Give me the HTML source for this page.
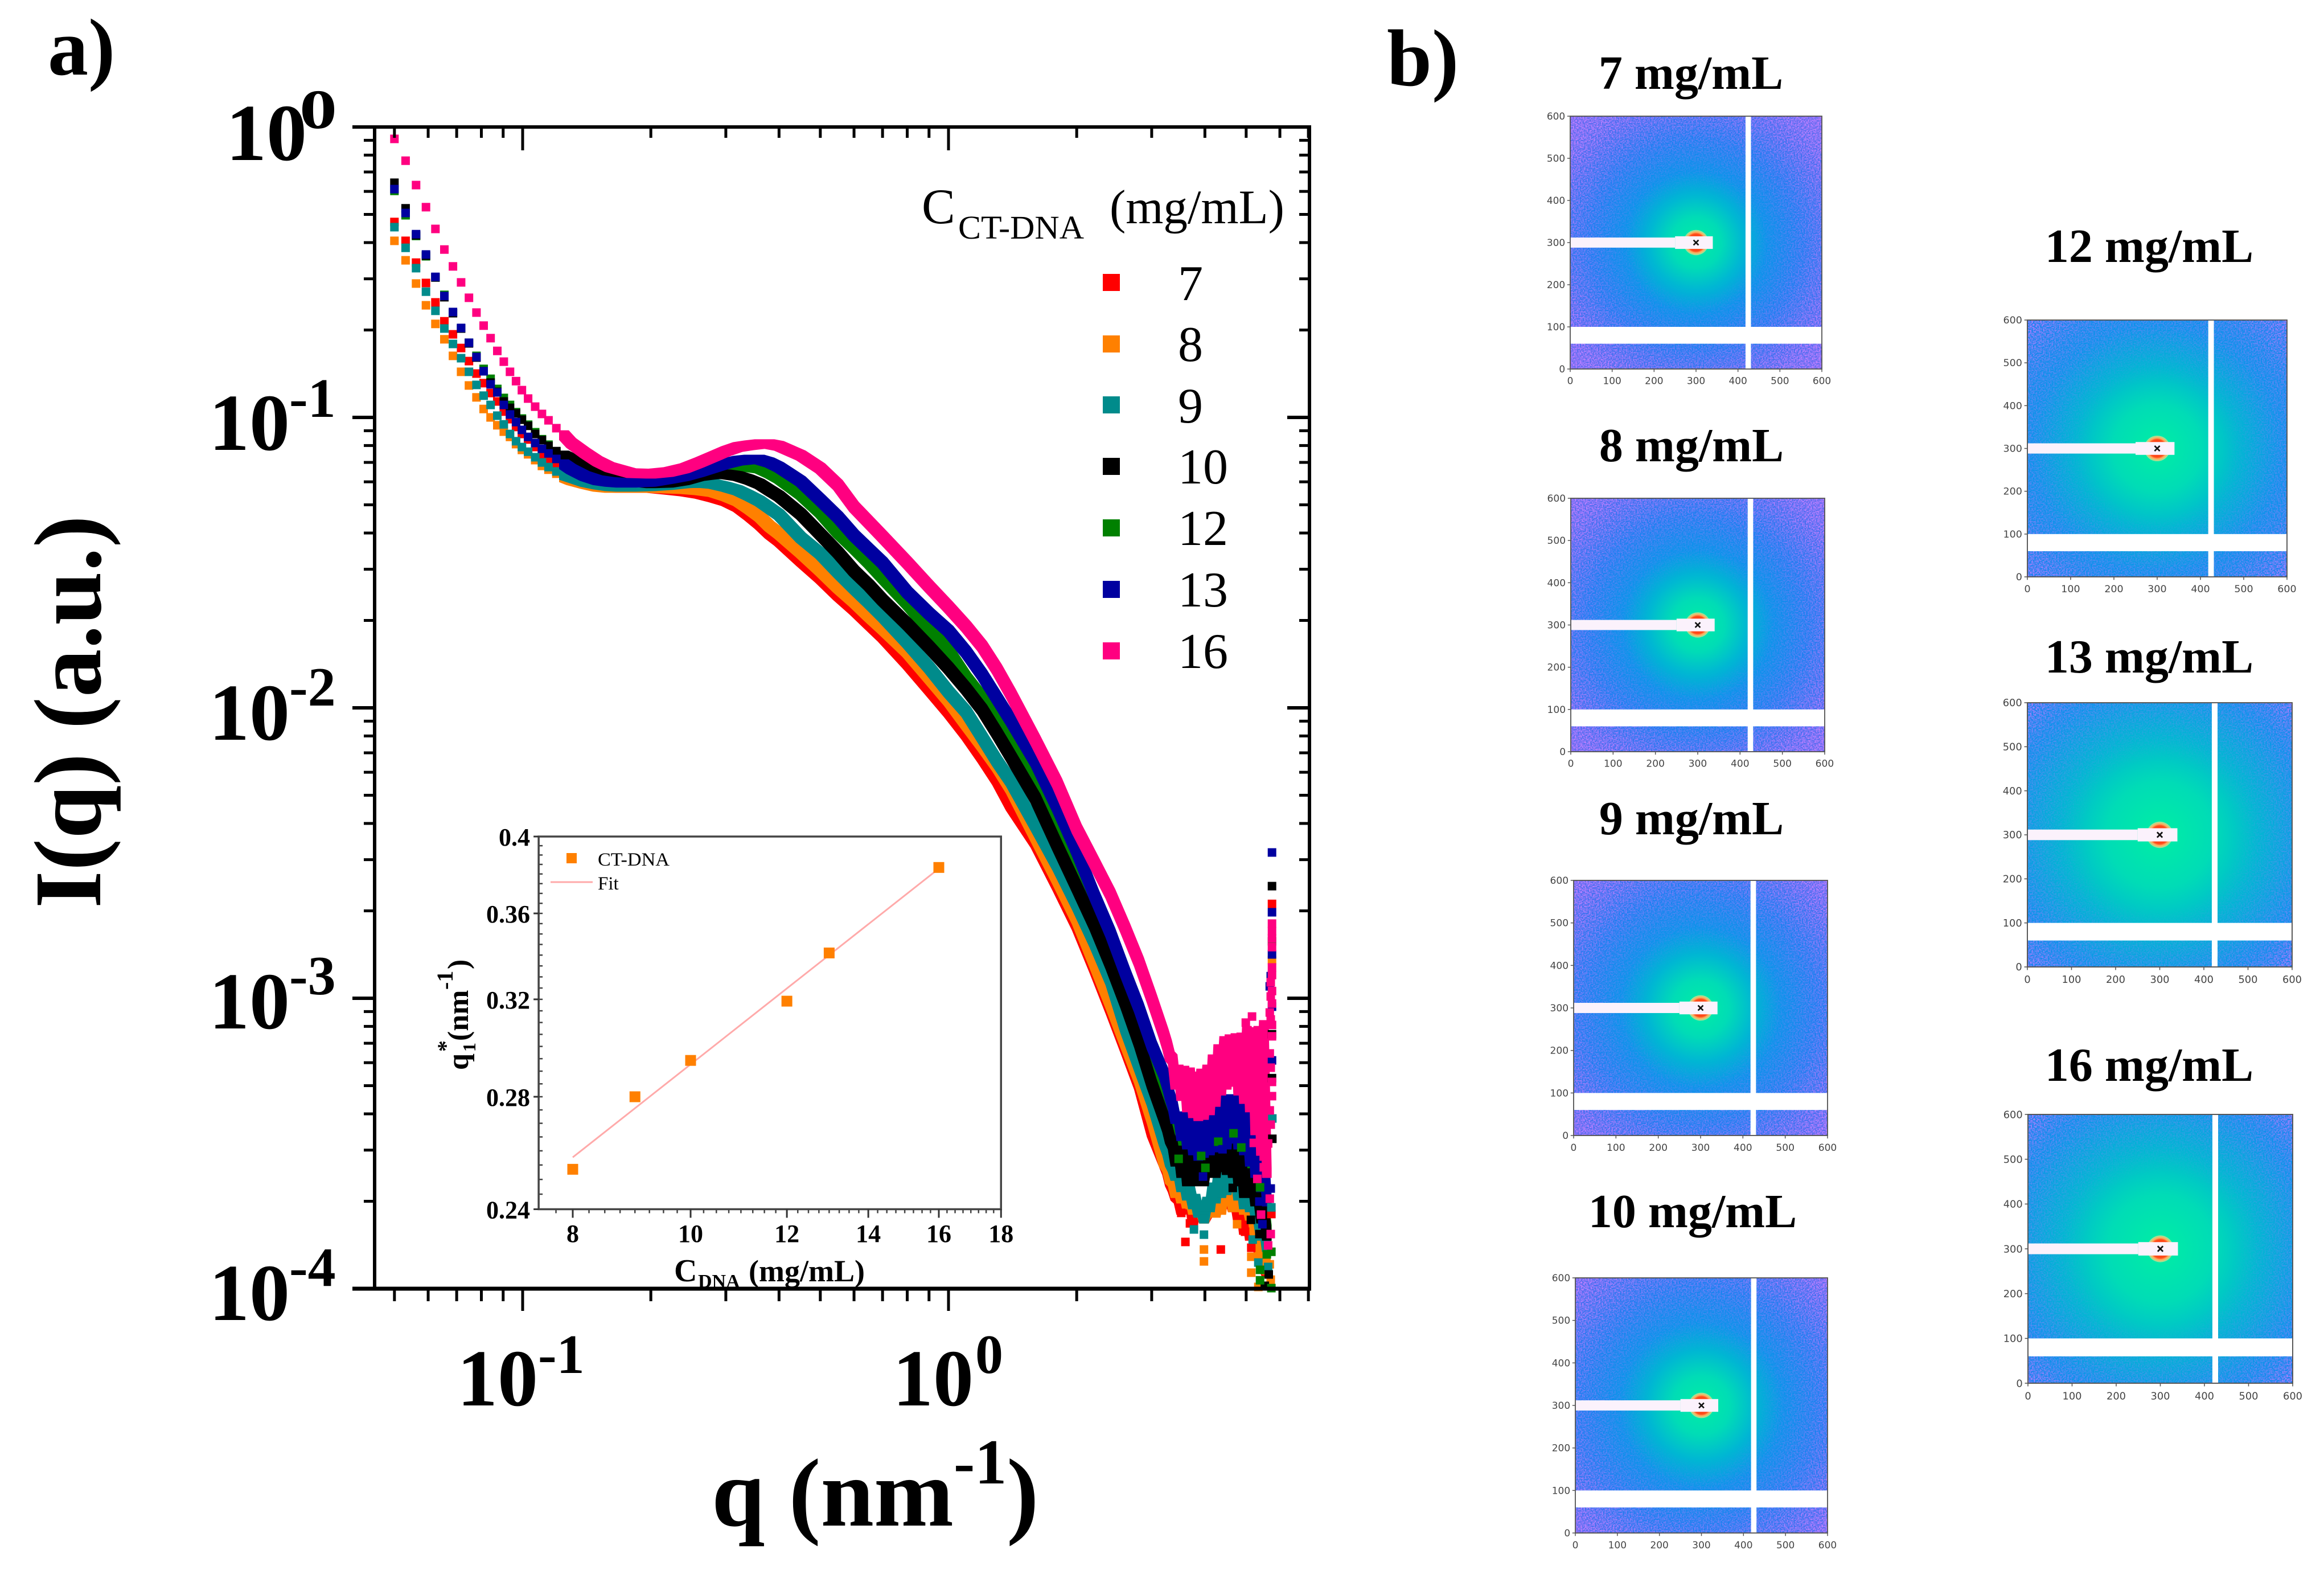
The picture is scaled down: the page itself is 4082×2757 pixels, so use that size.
<!DOCTYPE html>
<html lang="en">
<head>
<meta charset="utf-8">
<title>SAXS intensity of CT-DNA solutions</title>
<style>
html,body{margin:0;padding:0;background:#fff;}
svg{display:block;}
text{font-family:"Liberation Serif","Times New Roman",serif;fill:#000;}
.b{font-weight:bold;}
</style>
</head>
<body>
<svg id="figure" xmlns="http://www.w3.org/2000/svg" width="4082" height="2757" viewBox="0 0 4082 2757">
<defs>
<filter id="speckle" x="0" y="0" width="1" height="1" color-interpolation-filters="sRGB">
<feTurbulence type="fractalNoise" baseFrequency="0.3" numOctaves="2" seed="4"/>
<feColorMatrix type="matrix" values="0 0 0 0 0.74  0 0 0 0 0.5  0 0 0 0 1  3 0 0 0 -1.05"/>
</filter>
</defs>
<rect x="0" y="0" width="4082" height="2757" fill="#fff"/>
<text class="b" x="84" y="131" font-size="142">a)</text>
<text class="b" x="2436" y="150" font-size="142">b)</text>

<g id="main-marks"></g>
<g id="main-axes"></g>

<text class="b" x="397" y="281" font-size="142">10</text>
<text class="b" x="526" y="225" font-size="98" textLength="66" lengthAdjust="spacingAndGlyphs">0</text>
<text class="b" x="367" y="790" font-size="142">10</text>
<text class="b" x="508" y="732" font-size="98">-1</text>
<text class="b" x="367" y="1299" font-size="142">10</text>
<text class="b" x="508" y="1239" font-size="98">-2</text>
<text class="b" x="367" y="1806" font-size="142">10</text>
<text class="b" x="508" y="1746" font-size="98">-3</text>
<text class="b" x="367" y="2318" font-size="142">10</text>
<text class="b" x="508" y="2258" font-size="98">-4</text>
<text class="b" x="803" y="2468" font-size="142">10</text>
<text class="b" x="945" y="2411" font-size="98">-1</text>
<text class="b" x="1568" y="2468" font-size="142">10</text>
<text class="b" x="1713" y="2411" font-size="98">0</text>

<text class="b" x="1250" y="2679" font-size="170" textLength="425" lengthAdjust="spacingAndGlyphs">q (nm</text>
<text class="b" x="1675" y="2605" font-size="112">-1</text>
<text class="b" x="1768" y="2679" font-size="170">)</text>
<text class="b" transform="translate(176,1595) rotate(-90)" font-size="168" textLength="690" lengthAdjust="spacingAndGlyphs">I(q) (a.u.)</text>

<g>
<text x="1619" y="392" font-size="88">C</text>
<text x="1683" y="419" font-size="58" textLength="221" lengthAdjust="spacingAndGlyphs">CT-DNA</text>
<text x="1949" y="392" font-size="85">(mg/mL)</text>
<rect x="1937" y="481" width="30" height="30" fill="#ff0000"/>
<text x="2069" y="527" font-size="88">7</text>
<rect x="1937" y="589" width="30" height="30" fill="#ff8000"/>
<text x="2069" y="634" font-size="88">8</text>
<rect x="1937" y="696" width="30" height="30" fill="#008b8b"/>
<text x="2069" y="742" font-size="88">9</text>
<rect x="1937" y="804" width="30" height="30" fill="#000000"/>
<text x="2069" y="849" font-size="88">10</text>
<rect x="1937" y="912" width="30" height="30" fill="#008000"/>
<text x="2069" y="957" font-size="88">12</text>
<rect x="1937" y="1020" width="30" height="30" fill="#0000a0"/>
<text x="2069" y="1065" font-size="88">13</text>
<rect x="1937" y="1128" width="30" height="30" fill="#ff0080"/>
<text x="2069" y="1173" font-size="88">16</text>
</g>

<g id="inset"></g>
<g>
<text x="1050" y="1520" font-size="33" textLength="126" lengthAdjust="spacingAndGlyphs">CT-DNA</text>
<text x="1050" y="1562" font-size="33">Fit</text>
<text class="b" x="1184" y="2250" font-size="56">C</text>
<text class="b" x="1226" y="2261" font-size="34">DNA</text>
<text class="b" x="1315" y="2250" font-size="54">(mg/mL)</text>
<text class="b" transform="translate(822,1879) rotate(-90)" font-size="52">q</text>
<text class="b" transform="translate(835,1847) rotate(-90)" font-size="32">1</text>
<text class="b" transform="translate(796,1847) rotate(-90)" font-size="40">*</text>
<text class="b" transform="translate(822,1828) rotate(-90)" font-size="52">(nm</text>
<text class="b" transform="translate(795,1738) rotate(-90)" font-size="40">-1</text>
<text class="b" transform="translate(822,1702) rotate(-90)" font-size="52">)</text>
</g>

<text class="b" x="2970" y="156" font-size="84" text-anchor="middle">7 mg/mL</text>
<text class="b" x="2971" y="810" font-size="84" text-anchor="middle">8 mg/mL</text>
<text class="b" x="2971" y="1465" font-size="84" text-anchor="middle">9 mg/mL</text>
<text class="b" x="2973" y="2155" font-size="84" text-anchor="middle">10 mg/mL</text>
<text class="b" x="3775" y="460" font-size="84" text-anchor="middle">12 mg/mL</text>
<text class="b" x="3775" y="1181" font-size="84" text-anchor="middle">13 mg/mL</text>
<text class="b" x="3775" y="1898" font-size="84" text-anchor="middle">16 mg/mL</text>

<svg class="pattern" data-conc="7" x="2758" y="204" width="442" height="444" viewBox="0 0 600 600" preserveAspectRatio="none" overflow="visible"></svg>
<svg class="pattern" data-conc="8" x="2759" y="875" width="446" height="445" viewBox="0 0 600 600" preserveAspectRatio="none" overflow="visible"></svg>
<svg class="pattern" data-conc="9" x="2764" y="1546" width="446" height="448" viewBox="0 0 600 600" preserveAspectRatio="none" overflow="visible"></svg>
<svg class="pattern" data-conc="10" x="2767" y="2244" width="443" height="448" viewBox="0 0 600 600" preserveAspectRatio="none" overflow="visible"></svg>
<svg class="pattern" data-conc="12" x="3561" y="562" width="456" height="451" viewBox="0 0 600 600" preserveAspectRatio="none" overflow="visible"></svg>
<svg class="pattern" data-conc="13" x="3561" y="1234" width="465" height="464" viewBox="0 0 600 600" preserveAspectRatio="none" overflow="visible"></svg>
<svg class="pattern" data-conc="16" x="3562" y="1957" width="465" height="472" viewBox="0 0 600 600" preserveAspectRatio="none" overflow="visible"></svg>
</svg>

<script>
// q values (nm^-1) shared by all series
const qGrid = [
0.05,0.0531,0.0562,0.0593,0.0624,0.0655,0.0686,0.0717,0.0748,0.0779,0.081,0.0841,0.0872,0.0903,0.0934,0.0965,0.0996,
0.103,0.107,0.111,0.115,0.12,0.125,0.13,
0.14,0.15,0.16,0.17,0.18,0.2,0.22,0.24,0.26,0.28,0.3,0.32,0.34,0.36,0.38,0.4,
0.45,0.5,0.55,0.6,0.65,0.7,0.8,0.9,1,1.1,1.2,1.3,1.4,1.6,1.8,2,2.2,2.4,2.6,2.8,3,3.2,
3.26,3.31,3.36,3.41,3.47,3.52,3.58,3.63,3.69,3.75,3.80,3.86,3.92,3.98,4.05,4.11,4.17,4.24,4.30,4.37,4.44,4.50,4.57,4.65,4.72,4.79,4.87,4.94,5.02,5.10,5.18,5.25,5.34,5.42,5.50,5.59];

// log10 I(q), one array per DNA concentration
const logI7 = [
-.327,-.392,-.467,-.537,-.604,-.669,-.714,-.761,-.806,-.849,-.882,-.916,-.945,-.980,-1.006,-1.033,-1.057,
-1.076,-1.102,-1.127,-1.151,-1.171,-1.194,-1.210,
-1.227,-1.237,-1.241,-1.243,-1.243,-1.243,-1.249,-1.255,-1.263,-1.275,-1.288,-1.308,-1.337,-1.367,-1.400,-1.425,
-1.494,-1.553,-1.612,-1.661,-1.710,-1.755,-1.847,-1.935,-2.014,-2.092,-2.171,-2.249,-2.337,-2.465,-2.612,-2.749,-2.896,-3.037,-3.171,-3.298,-3.461,-3.563,
-3.592,-3.631,-3.651,-3.680,-3.690,-3.729,-3.680,-3.720,-3.700,-3.769,-3.720,-3.739,-3.729,-3.759,-3.739,-3.729,-3.700,-3.720,-3.700,-3.720,-3.671,-3.700,-3.680,-3.720,-3.700,-3.759,-3.720,-3.798,-3.739,-3.818,-3.778,-3.837,-3.857,-3.896,-3.916,-3.945];
const logI8 = [
-.392,-.459,-.539,-.614,-.678,-.731,-.788,-.843,-.890,-.931,-.971,-1.000,-1.027,-1.049,-1.067,-1.092,-1.112,
-1.127,-1.147,-1.167,-1.180,-1.194,-1.206,-1.216,
-1.229,-1.239,-1.243,-1.243,-1.243,-1.243,-1.245,-1.247,-1.251,-1.257,-1.271,-1.288,-1.314,-1.341,-1.375,-1.400,
-1.465,-1.527,-1.586,-1.635,-1.684,-1.727,-1.808,-1.896,-1.975,-2.057,-2.131,-2.202,-2.278,-2.445,-2.592,-2.729,-2.880,-3.020,-3.155,-3.278,-3.416,-3.563,
-3.582,-3.622,-3.631,-3.671,-3.651,-3.690,-3.671,-3.710,-3.680,-3.729,-3.700,-3.739,-3.729,-3.759,-3.729,-3.710,-3.690,-3.739,-3.690,-3.729,-3.641,-3.700,-3.622,-3.720,-3.651,-3.720,-3.661,-3.729,-3.700,-3.749,-3.739,-3.827,-3.818,-3.916,-3.876,-3.935];
const logI9 = [
-.345,-.416,-.486,-.567,-.633,-.694,-.747,-.796,-.843,-.888,-.925,-.957,-.994,-1.024,-1.057,-1.082,-1.102,
-1.118,-1.137,-1.155,-1.171,-1.186,-1.198,-1.206,
-1.222,-1.231,-1.237,-1.239,-1.239,-1.237,-1.233,-1.227,-1.225,-1.229,-1.239,-1.251,-1.269,-1.288,-1.312,-1.335,
-1.414,-1.469,-1.533,-1.588,-1.637,-1.684,-1.775,-1.861,-1.945,-2.014,-2.102,-2.184,-2.253,-2.406,-2.543,-2.678,-2.808,-2.939,-3.104,-3.235,-3.355,-3.492,
-3.524,-3.563,-3.582,-3.612,-3.602,-3.651,-3.631,-3.680,-3.661,-3.710,-3.690,-3.739,-3.720,-3.759,-3.700,-3.720,-3.651,-3.690,-3.612,-3.671,-3.602,-3.661,-3.602,-3.651,-3.612,-3.680,-3.631,-3.710,-3.641,-3.720,-3.680,-3.739,-3.759,-3.818,-3.778,-3.857];
const logI10 = [
-.192,-.280,-.373,-.443,-.518,-.586,-.641,-.694,-.745,-.794,-.841,-.880,-.912,-.945,-.967,-.986,-1.008,
-1.029,-1.057,-1.078,-1.098,-1.116,-1.131,-1.143,
-1.167,-1.186,-1.202,-1.214,-1.220,-1.227,-1.225,-1.216,-1.202,-1.196,-1.196,-1.202,-1.214,-1.229,-1.251,-1.271,
-1.333,-1.402,-1.465,-1.529,-1.578,-1.629,-1.712,-1.790,-1.863,-1.935,-2.006,-2.088,-2.167,-2.312,-2.475,-2.618,-2.749,-2.884,-3.018,-3.153,-3.294,-3.410,
-3.445,-3.484,-3.504,-3.563,-3.524,-3.602,-3.524,-3.631,-3.543,-3.631,-3.563,-3.631,-3.563,-3.631,-3.543,-3.602,-3.543,-3.602,-3.524,-3.582,-3.484,-3.592,-3.484,-3.602,-3.504,-3.631,-3.543,-3.671,-3.602,-3.671,-3.622,-3.700,-3.680,-3.759,-3.720,-3.818];
const logI12 = [
-.220,-.304,-.375,-.445,-.518,-.578,-.641,-.694,-.743,-.788,-.833,-.867,-.902,-.933,-.957,-.982,-1.004,
-1.025,-1.051,-1.075,-1.094,-1.118,-1.141,-1.151,
-1.171,-1.186,-1.198,-1.208,-1.214,-1.222,-1.218,-1.206,-1.192,-1.180,-1.175,-1.171,-1.171,-1.176,-1.192,-1.210,
-1.265,-1.327,-1.396,-1.449,-1.500,-1.551,-1.641,-1.729,-1.804,-1.896,-1.967,-2.045,-2.122,-2.261,-2.400,-2.553,-2.700,-2.831,-2.955,-3.102,-3.229,-3.347,
-3.376,-3.435,-3.455,-3.504,-3.475,-3.553,-3.484,-3.563,-3.504,-3.582,-3.504,-3.602,-3.494,-3.582,-3.484,-3.563,-3.475,-3.553,-3.465,-3.533,-3.455,-3.543,-3.435,-3.533,-3.435,-3.543,-3.484,-3.592,-3.543,-3.631,-3.602,-3.671,-3.651,-3.739,-3.700,-3.798];
const logI13 = [
-.214,-.296,-.369,-.439,-.516,-.582,-.637,-.692,-.743,-.792,-.841,-.886,-.914,-.957,-.990,-1.016,-1.043,
-1.067,-1.088,-1.108,-1.124,-1.143,-1.161,-1.178,
-1.202,-1.216,-1.222,-1.225,-1.225,-1.222,-1.212,-1.202,-1.188,-1.173,-1.159,-1.149,-1.145,-1.145,-1.155,-1.171,
-1.220,-1.284,-1.343,-1.406,-1.455,-1.500,-1.602,-1.675,-1.735,-1.808,-1.886,-1.967,-2.043,-2.186,-2.343,-2.494,-2.645,-2.775,-2.912,-3.033,-3.161,-3.259,
-3.298,-3.337,-3.367,-3.416,-3.406,-3.475,-3.406,-3.504,-3.406,-3.524,-3.406,-3.543,-3.406,-3.533,-3.386,-3.524,-3.376,-3.514,-3.357,-3.494,-3.347,-3.504,-3.347,-3.484,-3.347,-3.504,-3.376,-3.524,-3.406,-3.563,-3.435,-3.602,-3.484,-3.651,-3.524,-3.700];
const logI16 = [
-.041,-.116,-.200,-.276,-.351,-.422,-.480,-.535,-.588,-.639,-.684,-.727,-.771,-.808,-.843,-.875,-.906,
-.935,-.963,-.988,-1.010,-1.037,-1.061,-1.088,
-1.122,-1.151,-1.171,-1.182,-1.192,-1.194,-1.188,-1.175,-1.155,-1.135,-1.116,-1.102,-1.096,-1.092,-1.092,-1.098,
-1.131,-1.175,-1.233,-1.308,-1.361,-1.410,-1.500,-1.582,-1.653,-1.720,-1.788,-1.867,-1.951,-2.112,-2.259,-2.416,-2.533,-2.641,-2.759,-2.875,-3.000,-3.122,
-3.161,-3.200,-3.210,-3.298,-3.245,-3.337,-3.249,-3.376,-3.255,-3.396,-3.269,-3.406,-3.259,-3.402,-3.245,-3.386,-3.210,-3.357,-3.175,-3.318,-3.147,-3.298,-3.141,-3.288,-3.137,-3.318,-3.135,-3.347,-3.112,-3.376,-3.116,-3.455,-3.112,-3.543,-3.092,-3.602];

// isolated noisy points near the high-q end of each series
const outQ7 = [3.52,3.69,3.60,4.36,4.97,5.14,5.73,5.75];
const outI7 = [-3.739,-3.775,-3.839,-3.865,-3.804,-3.859,-3.743,-2.675];
const outQ8 = [3.98,3.98,4.76,5.14,5.14,5.71,5.68,5.34,5.75];
const outI8 = [-3.865,-3.906,-3.778,-3.890,-3.945,-3.969,-3.916,-3.994,-2.869];
const outQ9 = [3.77,3.98,5.18,5.34,5.63,5.73,5.76];
const outI9 = [-3.796,-3.814,-3.831,-3.910,-3.925,-3.720,-3.414];
const outQ10 = [4.65,5.13,5.37,5.65,5.53,5.76,5.75,5.75,5.75];
const outI10 = [-3.653,-3.763,-3.812,-3.951,-3.990,-3.484,-2.614,-3.124,-3.275];
const outQ12 = [3.47,3.92,4.01,4.30,4.67,4.87,5.39,5.59,5.73,5.39,5.39,5.73,5.75];
const outI12 = [-3.553,-3.543,-3.584,-3.494,-3.465,-3.514,-3.651,-3.882,-3.873,-3.935,-3.971,-3.998,-2.804];
const outQ13 = [3.96,4.40,5.25,5.37,5.46,5.71,5.75,5.75,5.75,5.71,5.68,5.75,5.75];
const outI13 = [-3.614,-3.520,-3.557,-3.700,-3.778,-3.655,-2.498,-2.704,-2.849,-2.924,-2.959,-3.029,-3.214];
const outQ16 = [4.99,5.16,5.21,5.63,5.50,5.31,5.68,5.42,5.71,5.63,5.75,5.75,5.75,5.75,5.71,5.68,5.75,5.68,5.75,5.68,5.75,5.75,5.71,5.75,5.75,5.71,5.75,5.71,5.75,5.71];
const outI16 = [-3.084,-3.063,-3.498,-3.500,-3.582,-3.622,-3.690,-3.745,-3.812,-3.851,-2.743,-2.794,-2.824,-2.894,-2.994,-3.049,-3.092,-3.190,-3.288,-3.386,-2.769,-2.920,-2.945,-2.975,-3.018,-3.073,-3.131,-3.239,-3.337,-3.435];

const seriesLabels = ['7','8','9','12','10','13','16'];
const seriesColors = ['#ff0000','#ff8000','#008b8b','#008000','#000000','#0000a0','#ff0080'];
const seriesValues = [logI7,logI8,logI9,logI12,logI10,logI13,logI16];
const outlierOrder = ['7','8','9','10','12','13','16'];
const outlierColors = ['#ff0000','#ff8000','#008b8b','#000000','#008000','#0000a0','#ff0080'];
const outlierQ = [outQ7,outQ8,outQ9,outQ10,outQ12,outQ13,outQ16];
const outlierI = [outI7,outI8,outI9,outI10,outI12,outI13,outI16];

// axis tick values
const xMajorTicks = [0.1,1];
const xMinorTicks = [0.05,0.06,0.07,0.08,0.09,0.2,0.3,0.4,0.5,0.6,0.7,0.8,0.9,2,3,4,5,6,7];
const yDecades = [0,-1,-2,-3,-4];
const yMinorFactors = [2,3,4,5,6,7,8,9];

// inset data
const insetConc = [8,9,10,12,13,16];
const insetPeak = [0.2535,0.28,0.2943,0.3192,0.341,0.3834];
const fitConc = [8,16];
const fitPeak = [0.2577,0.3828];
const insetXTickLabels = ['8','10','12','14','16','18'];
const insetYTickLabels = ['0.4','0.36','0.32','0.28','0.24'];

// detector image data
const detectorTickLabels = ['0','100','200','300','400','500','600'];
const concLabels = ['7','8','9','10','12','13','16'];
const spreadByConc = [1,1.05,1.12,1.15,1.7,2,2];

const NS = 'http://www.w3.org/2000/svg';
function svgEl(tag, parent){ const el = document.createElementNS(NS, tag); parent.appendChild(el); return el; }
function setA(el, o){ for (const k in o) el.setAttribute(k, o[k]); return el; }

// main axes
const xOf = q => 1666 + 748 * Math.log10(q);
const yOf = logI => 223 - 510 * logI;
const MS = 15;
const BAND_MS = 17;
const BAND_START = 22;

const marks = document.getElementById('main-marks');
seriesLabels.forEach((label, si) => {
  const vals = seriesValues[si];
  const color = seriesColors[si];
  const g = svgEl('g', marks);
  
  
  const h = BAND_MS / 2;
  let d = '';
  for (let i = BAND_START; i < vals.length - 1; i++) {
    const x1 = xOf(qGrid[i]), y1 = yOf(vals[i]), x2 = xOf(qGrid[i + 1]), y2 = yOf(vals[i + 1]);
    let pts;
    if (y2 >= y1) pts = [[x1-h,y1-h],[x1+h,y1-h],[x2+h,y2-h],[x2+h,y2+h],[x2-h,y2+h],[x1-h,y1+h]];
    else pts = [[x1-h,y1-h],[x2-h,y2-h],[x2+h,y2-h],[x2+h,y2+h],[x1+h,y1+h],[x1-h,y1+h]];
    d += 'M' + pts.map(p => p[0].toFixed(1) + ' ' + p[1].toFixed(1)).join('L') + 'Z';
  }
  const band = svgEl('path', g);
  
  
  setA(band, {d: d, fill: color});
  vals.forEach((v, i) => {
    const r = svgEl('rect', g);
    
    
    setA(r, {x: (xOf(qGrid[i]) - MS / 2).toFixed(1), y: (yOf(v) - MS / 2).toFixed(1), width: MS, height: MS, fill: color});
  });
});
outlierOrder.forEach((label, si) => {
  outlierQ[si].forEach((q, i) => {
    const r = svgEl('rect', marks);
    
    
    setA(r, {x: (xOf(q) - MS / 2).toFixed(1), y: (yOf(outlierI[si][i]) - MS / 2).toFixed(1), width: MS, height: MS, fill: outlierColors[si]});
  });
});

const axes = document.getElementById('main-axes');
function line(parent, x1, y1, x2, y2, w, col, name){
  const l = svgEl('line', parent);
  
  
  setA(l, {x1: x1, y1: y1, x2: x2, y2: y2, stroke: col, 'stroke-width': w});
  return l;
}
const L = 658, R = 2300, T = 223, B = 2263;
line(axes, 619, T, R + 3, T, 6, '#000', 'top-axis-line');
line(axes, 619, B, R + 3, B, 7, '#000', 'bottom-axis-line');
line(axes, L, T, L, B, 6, '#000', 'left-axis-line');
line(axes, R, T, R, B, 6, '#000', 'right-axis-line');
xMajorTicks.forEach(q => {
  line(axes, xOf(q), T, xOf(q), 264, 5, '#000', 'x-major-tick-top');
  line(axes, xOf(q), B, xOf(q), 2302, 5, '#000', 'x-major-tick-bottom');
});
xMinorTicks.forEach(q => {
  line(axes, xOf(q), T, xOf(q), 242, 5, '#000', 'x-minor-tick-top');
  line(axes, xOf(q), B, xOf(q), 2285, 5, '#000', 'x-minor-tick-bottom');
});
yDecades.forEach(dec => {
  line(axes, 619, yOf(dec), L, yOf(dec), 6, '#000', 'y-major-tick-left');
  line(axes, 2261, yOf(dec), R, yOf(dec), 6, '#000', 'y-major-tick-right');
  if (dec > -4 + 0) {
    yMinorFactors.forEach(f => {
      const v = dec - 1 + Math.log10(f);
      line(axes, 639, yOf(v), L, yOf(v), 5, '#000', 'y-minor-tick-left');
      line(axes, 2282, yOf(v), R, yOf(v), 5, '#000', 'y-minor-tick-right');
    });
  }
});

// inset
const inset = document.getElementById('inset');
const ixOf = c => 1213 + 2136 * Math.log10(c / 10);
const iyOf = v => 1469 + 2950 * Math.log10(0.4 / v);
const IL = ixOf(7.5), IR = ixOf(18), IT = iyOf(0.4), IB = iyOf(0.24);
const frame = svgEl('rect', inset);


setA(frame, {x: IL, y: IT, width: IR - IL, height: IB - IT, fill: 'none', stroke: '#444', 'stroke-width': 3.5});
for (let c = 7.75; c < 18; c += 0.25) {
  line(inset, ixOf(c), IB, ixOf(c), IB + 7, 2.5, '#444', 'inset-x-minor-tick');
}
for (let v = 0.245; v < 0.4; v += 0.005) {
  line(inset, IL, iyOf(v), IL + 7, iyOf(v), 2.5, '#444', 'inset-y-minor-tick');
}
insetXTickLabels.forEach(lab => {
  const c = +lab;
  line(inset, ixOf(c), IB, ixOf(c), IB + 15, 3, '#333', 'inset-x-major-tick');
  const t = svgEl('text', inset);
  
  
  setA(t, {x: ixOf(c), y: 2181, 'font-size': 44, 'font-weight': 'bold', 'text-anchor': 'middle'});
  t.textContent = lab;
});
insetYTickLabels.forEach(lab => {
  const v = +lab;
  line(inset, IL - 9, iyOf(v), IL, iyOf(v), 3, '#333', 'inset-y-major-tick');
  const t = svgEl('text', inset);
  
  
  setA(t, {x: 931, y: iyOf(v) + 16, 'font-size': 44, 'font-weight': 'bold', 'text-anchor': 'end'});
  t.textContent = lab;
});
const fit = line(inset, ixOf(fitConc[0]), iyOf(fitPeak[0]), ixOf(fitConc[1]), iyOf(fitPeak[1]), 3, '#ffaaaa', 'inset-fit-line');
insetConc.forEach((c, i) => {
  const r = svgEl('rect', inset);
  
  
  setA(r, {x: ixOf(c) - 9.5, y: iyOf(insetPeak[i]) - 9.5, width: 19, height: 19, fill: '#ff8000'});
});
const legM = svgEl('rect', inset);


setA(legM, {x: 995, y: 1498, width: 18, height: 18, fill: '#ff8000'});
line(inset, 967, 1549, 1041, 1549, 3, '#ffaaaa', 'inset-legend-line');

// detector images
document.querySelectorAll('svg.pattern').forEach((p, pi) => {
  const s = spreadByConc[concLabels.indexOf(p.getAttribute('data-conc'))];
  const sm = Math.sqrt(s);
  const defs = svgEl('defs', p);
  const grad = svgEl('radialGradient', defs);
  setA(grad, {id: 'det-grad-' + pi, gradientUnits: 'userSpaceOnUse', cx: 300, cy: 300, r: 430});
  [[0,'#00eeA4'],[60,'#00dcb6'],[110,'#00b8d2'],[170,'#0a94ea'],[250,'#1a80f0'],[330,'#4070f0'],[420,'#6a6af0']].forEach(st => {
    const e = svgEl('stop', grad);
    setA(e, {offset: Math.min(1, st[0] * s / 430), 'stop-color': st[1]});
  });
  const maskGrad = svgEl('radialGradient', defs);
  setA(maskGrad, {id: 'det-maskg-' + pi, gradientUnits: 'userSpaceOnUse', cx: 300, cy: 300, r: 430});
  [[120,'#000'],[250,'#777'],[370,'#fff']].forEach(st => {
    const e = svgEl('stop', maskGrad);
    setA(e, {offset: Math.min(1, st[0] * sm / 430), 'stop-color': st[1]});
  });
  const mask = svgEl('mask', defs);
  setA(mask, {id: 'det-mask-' + pi, maskUnits: 'userSpaceOnUse', x: 0, y: 0, width: 600, height: 600});
  setA(svgEl('rect', mask), {x: 0, y: 0, width: 600, height: 600, fill: 'url(#det-maskg-' + pi + ')'});
  const ringGrad = svgEl('radialGradient', defs);
  setA(ringGrad, {id: 'det-ring-' + pi, gradientUnits: 'userSpaceOnUse', cx: 300, cy: 300, r: 30});
  [[0,'#ff3010'],[0.68,'#ff4a18'],[0.82,'#ffb060'],[1,'#90e8a0']].forEach(st => {
    const e = svgEl('stop', ringGrad);
    setA(e, {offset: st[0], 'stop-color': st[1]});
  });

  const bg = svgEl('rect', p);
  
  
  setA(bg, {x: 0, y: 0, width: 600, height: 600, fill: 'url(#det-grad-' + pi + ')'});
  const maskG = svgEl('g', p);
  setA(maskG, {mask: 'url(#det-mask-' + pi + ')'});
  const sp = svgEl('rect', maskG);
  
  
  setA(sp, {x: 0, y: 0, width: 600, height: 600, filter: 'url(#speckle)'});
  const ring = svgEl('circle', p);
  
  
  setA(ring, {cx: 300, cy: 300, r: 30, fill: 'url(#det-ring-' + pi + ')'});
  const bars = [[418,0,13,600,'#fff','detector-gap-vertical'],[0,500,600,40,'#fff','detector-gap-horizontal'],[0,288,250,24,'#fbf2fc','beam-stop-arm'],[250,285,90,30,'#fbf2fc','beam-stop-head']];
  bars.forEach(b => {
    const r = svgEl('rect', p);
    
    
    setA(r, {x: b[0], y: b[1], width: b[2], height: b[3], fill: b[4]});
  });
  line(p, 294, 294, 306, 306, 3.5, '#111', 'beam-centre-cross-a');
  line(p, 294, 306, 306, 294, 3.5, '#111', 'beam-centre-cross-b');
  const fr = svgEl('rect', p);
  
  
  setA(fr, {x: 0, y: 0, width: 600, height: 600, fill: 'none', stroke: '#555', 'stroke-width': 2.5});
  detectorTickLabels.forEach(lab => {
    const v = +lab;
    line(p, v, 600, v, 607, 2, '#555', 'detector-x-tick');
    line(p, -7, 600 - v, 0, 600 - v, 2, '#555', 'detector-y-tick');
    const tx = svgEl('text', p);
    
    
    setA(tx, {x: v, y: 636, 'font-size': 23, 'text-anchor': 'middle', style: 'font-family:"DejaVu Sans",sans-serif;fill:#444'});
    tx.textContent = lab;
    const ty = svgEl('text', p);
    
    
    setA(ty, {x: -12, y: 608 - v, 'font-size': 23, 'text-anchor': 'end', style: 'font-family:"DejaVu Sans",sans-serif;fill:#444'});
    ty.textContent = lab;
  });
});
</script>
</body>
</html>
